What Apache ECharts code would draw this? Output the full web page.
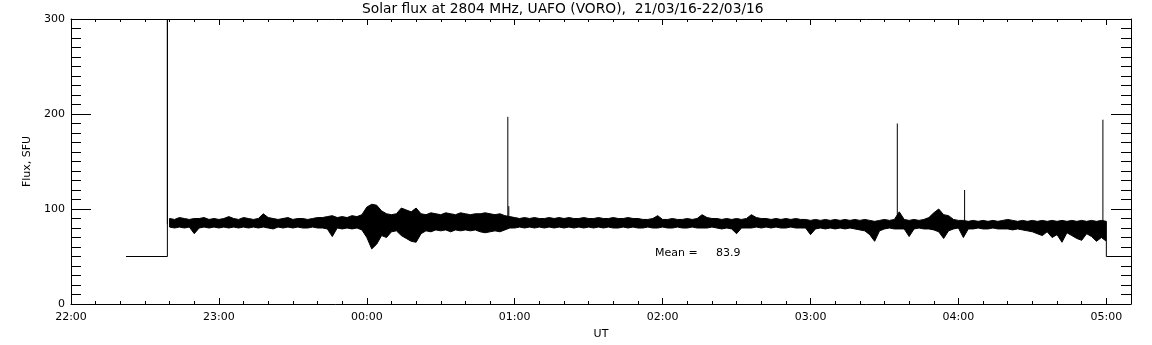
<!DOCTYPE html>
<html>
<head>
<meta charset="utf-8">
<script src="https://cdn.jsdelivr.net/npm/echarts@6/dist/echarts.min.js"></script>
<style>
html, body { margin: 0; background: #fff; }
#main { width: 1152px; height: 345px; }
</style>
</head>
<body>
<div id="main"></div>
<script>
var chartTitle = 'Solar flux at 2804 MHz, UAFO (VORO),  21/03/16-22/03/16';
var hourLabels = ['22:00', '23:00', '00:00', '01:00', '02:00', '03:00', '04:00', '05:00'];

// time is in minutes after 22:00 UT, flux in SFU
// noise band read every 2 minutes, from 22:40 to 05:00
var bandStart = 40, bandStep = 2;
var bandHi = [
  90, 89, 91, 90, 89, 90, 90, 91, 89, 90, 89, 90, 92, 90, 89, 91, 90, 89, 90, 95,
  91, 90, 89, 90, 91, 89, 90, 90, 89, 90, 91, 91, 92, 93, 91, 92, 91, 93, 92, 94,
  102, 105, 104, 98, 95, 94, 95, 101, 99, 97, 101, 95, 94, 96, 95, 94, 96, 95, 94, 96,
  95, 94, 95, 95, 96, 95, 94, 95, 93, 92, 91, 90, 91, 90, 91, 90, 90, 91, 90, 91,
  90, 91, 90, 90, 91, 90, 90, 91, 90, 90, 91, 90, 90, 91, 90, 90, 89, 89, 90, 93,
  89, 89, 90, 89, 89, 90, 89, 90, 94, 91, 90, 90, 89, 90, 89, 90, 89, 90, 94, 91,
  90, 90, 89, 90, 89, 90, 89, 90, 89, 89, 88, 89, 88, 89, 88, 89, 88, 89, 88, 89,
  88, 89, 88, 87, 88, 89, 88, 89, 97, 89, 88, 89, 88, 89, 91, 96, 100, 94, 93, 89,
  88, 88, 87, 88, 87, 88, 87, 88, 87, 88, 89, 88, 87, 88, 87, 88, 87, 88, 87, 88,
  87, 88, 87, 88, 87, 88, 87, 88, 87, 88, 87
];
var bandLo = [
  81, 80, 81, 80, 81, 74, 80, 81, 80, 81, 80, 81, 80, 81, 80, 81, 80, 81, 80, 81,
  80, 79, 81, 80, 81, 80, 81, 80, 80, 81, 80, 80, 79, 71, 80, 79, 80, 79, 80, 78,
  70, 58, 63, 72, 70, 76, 77, 72, 69, 66, 65, 74, 77, 76, 78, 77, 78, 76, 78, 77,
  78, 77, 78, 76, 75, 76, 77, 76, 78, 80, 80, 81, 80, 81, 80, 81, 80, 81, 80, 81,
  80, 81, 80, 81, 80, 81, 80, 81, 80, 81, 80, 80, 81, 80, 81, 80, 80, 81, 80, 80,
  81, 80, 80, 81, 80, 80, 81, 80, 80, 80, 81, 80, 79, 80, 79, 74, 80, 80, 80, 81,
  80, 81, 80, 81, 80, 80, 81, 80, 80, 80, 73, 79, 80, 79, 80, 79, 80, 79, 80, 79,
  78, 77, 73, 66, 77, 79, 80, 79, 79, 79, 71, 79, 80, 79, 79, 78, 76, 69, 77, 79,
  80, 70, 79, 79, 80, 79, 79, 80, 79, 79, 79, 78, 79, 78, 77, 76, 74, 72, 76, 70,
  73, 65, 75, 72, 69, 67, 74, 71, 66, 70, 66
];
// flat level before the record starts and after it stops
var stepBefore = [[22.3, 50], [39.1, 50]];
var stepAfter = [[420, 50], [430, 50]];
// single-sample spikes: [minute, peak]
var spikes = [[39.1, 300], [177.2, 197], [177.6, 103], [335.2, 190], [362.5, 120], [418.6, 194]];
var meanFlux = 83.9;

var bandData = bandHi.map(function (v, i) { return [bandStart + i * bandStep, bandLo[i], v]; });
var lastT = bandStart + (bandHi.length - 1) * bandStep;

var black = '#000';
var font = 'DejaVu Sans';

function lineSeries(data) {
  return {
    type: 'line', data: data, symbol: 'none', silent: true, z: 3,
    lineStyle: { color: black, width: 1 }
  };
}

// the dense trace is drawn as one filled polygon between the low and high envelope
function renderBand(params, api) {
  if (params.dataIndex !== 0) return null;
  var top = [], bottom = [];
  bandData.forEach(function (d) {
    top.push(api.coord([d[0], d[2]]));
    bottom.unshift(api.coord([d[0], d[1]]));
  });
  return {
    type: 'polygon',
    shape: { points: top.concat(bottom) },
    style: { fill: black, stroke: black, lineWidth: 1 }
  };
}

var series = [
  {
    type: 'custom', data: bandData, renderItem: renderBand, silent: true,
    encode: { x: 0, y: [1, 2] }
  },
  lineSeries(stepBefore.concat([[39.1, 300]])),
  lineSeries([[lastT, bandLo[bandLo.length - 1]]].concat(stepAfter))
];
spikes.forEach(function (s) {
  series.push(lineSeries([[s[0], 84], [s[0], s[1]]]));
});

function xAxisDef(pos, major) {
  return {
    type: 'value', position: pos, min: 0, max: 430,
    interval: major ? 60 : 10,
    axisLine: { show: major, onZero: false, lineStyle: { color: black, width: 1 } },
    axisTick: { show: true, inside: true, length: major ? 6 : 3, lineStyle: { color: black } },
    axisLabel: {
      show: major && pos === 'bottom', color: black, fontFamily: font, fontSize: 11, margin: 8,
      formatter: function (v) { return v % 60 ? '' : hourLabels[v / 60]; }
    },
    splitLine: { show: false },
    name: major && pos === 'bottom' ? 'UT' : '',
    nameLocation: 'middle', nameGap: 25,
    nameTextStyle: { color: black, fontFamily: font, fontSize: 11 }
  };
}

function yAxisDef(pos) {
  var left = pos === 'left';
  return {
    type: 'value', position: pos, min: 0, max: 300, interval: 100,
    axisLine: { show: true, onZero: false, lineStyle: { color: black, width: 1 } },
    axisTick: { show: true, inside: true, length: 20, lineStyle: { color: black } },
    minorTick: { show: true, splitNumber: 10, length: 10, lineStyle: { color: black } },
    axisLabel: { show: left, color: black, fontFamily: font, fontSize: 11, margin: 6 },
    splitLine: { show: false },
    name: left ? 'Flux, SFU' : '',
    nameLocation: 'middle', nameGap: 29, nameRotate: 90,
    nameTextStyle: { color: black, fontFamily: font, fontSize: 11 }
  };
}

var myChart = echarts.init(document.getElementById('main'));
var option = {
  backgroundColor: '#fff',
  animation: false,
  title: {
    text: chartTitle, left: 362, top: 2, padding: 0,
    textStyle: { color: black, fontFamily: font, fontSize: 13.8, fontWeight: 'normal' }
  },
  grid: { left: 71, right: 21, top: 19, bottom: 41 },
  xAxis: [xAxisDef('bottom', true), xAxisDef('bottom', false), xAxisDef('top', true), xAxisDef('top', false)],
  yAxis: [yAxisDef('left'), yAxisDef('right')],
  graphic: [{
    type: 'text', left: 655, top: 248, z: 100,
    style: { text: 'Mean =', fill: black, font: '11px "DejaVu Sans"' }
  }, {
    type: 'text', left: 716, top: 248, z: 100,
    style: { text: meanFlux.toFixed(1), fill: black, font: '11px "DejaVu Sans"' }
  }],
  series: series
};
myChart.setOption(option);
</script>
</body>
</html>
